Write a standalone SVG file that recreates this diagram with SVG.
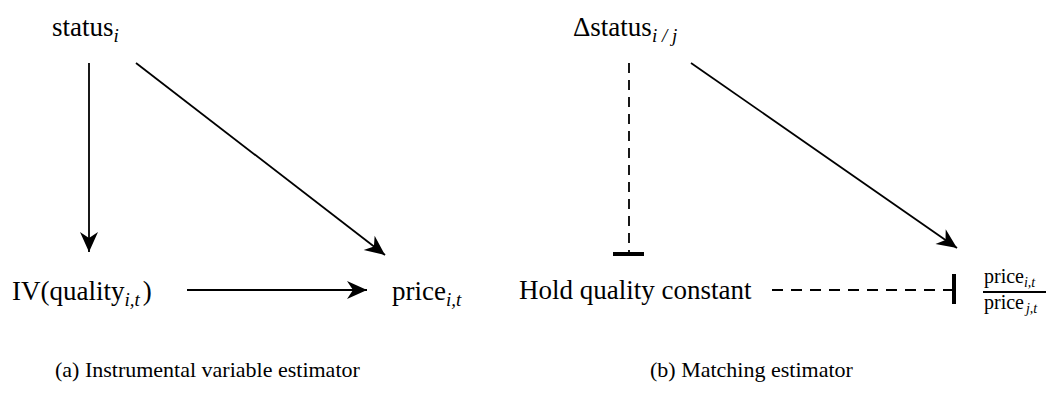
<svg xmlns="http://www.w3.org/2000/svg" width="1052" height="393" viewBox="0 0 1052 393">
<style>
text{font-family:"Liberation Serif","Times New Roman",serif;fill:#000}
.m{font-size:27px}
.s{font-size:19px;font-style:italic}
.f{font-size:20px}
.fs{font-size:14px;font-style:italic}
.cap{font-size:22px}
.e{stroke:#000;stroke-width:1.8;fill:none}
.d{stroke-dasharray:10,7}
.dh{stroke-dasharray:11,8}
.bar{stroke:#000;stroke-width:4}
</style>
<defs>
<marker id="ah" markerUnits="userSpaceOnUse" markerWidth="24" markerHeight="24" refX="0" refY="0" viewBox="-22 -12 24 24" orient="auto" overflow="visible">
<path d="M0,0 L-20,-9 L-14,0 L-20,9 Z" fill="#000"/>
</marker>
</defs>
<rect width="1052" height="393" fill="#fff"/>
<g id="status"><text class="m" x="52" y="36">status<tspan class="s" dy="6">i</tspan></text></g>
<g id="iv"><text class="m" x="12" y="300">IV(quality<tspan class="s" dy="6">i,t</tspan><tspan dy="-6" dx="3">)</tspan></text></g>
<g id="price"><text class="m" x="392" y="300">price<tspan class="s" dy="6">i,t</tspan></text></g>
<g id="dstatus"><text class="m" x="573" y="36">Δstatus<tspan class="s" dy="6">i / j</tspan></text></g>
<g id="hold"><text class="m" x="519" y="299">Hold quality constant</text></g>
<g id="ratio">
<text class="f" x="984" y="283">price<tspan class="fs" dy="4">i,t</tspan></text>
<line x1="983" y1="292" x2="1046" y2="292" stroke="#000" stroke-width="2"/>
<text class="f" x="984" y="309">price<tspan class="fs" dy="4" dx="2">j,t</tspan></text>
</g>
<g id="connectors">
<line class="e" x1="89" y1="63" x2="89" y2="252" marker-end="url(#ah)"/>
<line class="e" x1="136" y1="63" x2="385" y2="255" marker-end="url(#ah)"/>
<line class="e" x1="187" y1="290" x2="367" y2="290" marker-end="url(#ah)"/>
<line class="e" x1="691" y1="63" x2="957" y2="248" marker-end="url(#ah)"/>
<line class="e d" x1="629" y1="63" x2="629" y2="253"/>
<line class="bar" x1="613" y1="254" x2="644" y2="254"/>
<line class="e dh" x1="954" y1="290" x2="772" y2="290"/>
<line class="bar" x1="954" y1="274" x2="954" y2="304"/>
</g>
<g id="captions">
<text class="cap" x="55" y="377">(a)  Instrumental variable estimator</text>
<text class="cap" x="650" y="377">(b)  Matching estimator</text>
</g>
</svg>
